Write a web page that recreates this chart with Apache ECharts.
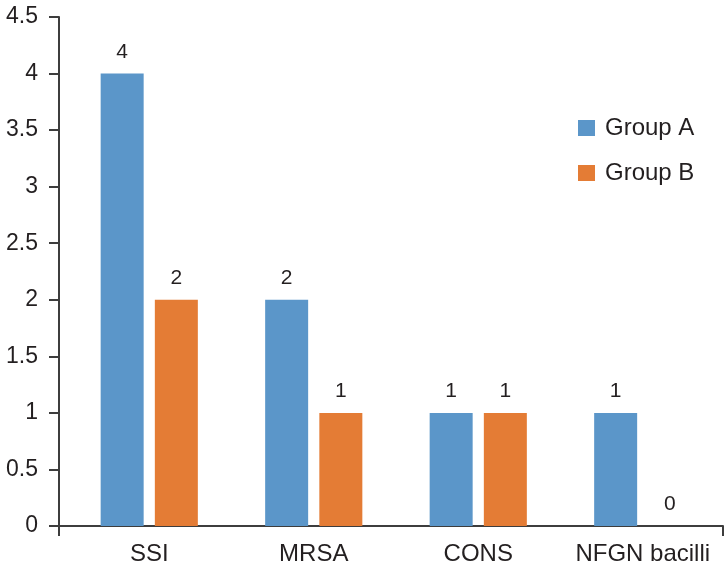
<!DOCTYPE html>
<html>
<head>
<meta charset="utf-8">
<script src="https://cdn.jsdelivr.net/npm/echarts@6/dist/echarts.min.js"></script>
<style>html,body{margin:0;padding:0;background:#fff}#c{width:727px;height:576px}</style>
</head>
<body>
<div id="c"></div>
<script>
const categories = ['SSI', 'MRSA', 'CONS', 'NFGN bacilli'];
const groupA = [4, 2, 1, 1];
const groupB = [2, 1, 1, 0];
const yTicks = { min: 0, max: 4.5, interval: 0.5 };

const FONT = '"Liberation Sans", Arial, sans-serif';
const TXT = '#231f20';
const AX = '#3d3d3d';

const chart = echarts.init(document.getElementById('c'), null, { renderer: 'canvas' });
chart.setOption({
  animation: false,
  backgroundColor: '#fff',
  grid: [
    { left: 59, right: 4, top: 17, bottom: 50 },
    { left: 67, right: 2, top: 17, bottom: 50 }
  ],
  legend: {
    orient: 'vertical',
    left: 573, top: 111,
    itemWidth: 17, itemHeight: 16, itemGap: 21,
    icon: 'rect',
    textStyle: { fontFamily: FONT, fontSize: 24, color: TXT, padding: [0, 0, 0, 5] },
    data: ['Group A', 'Group B']
  },
  xAxis: [
    {
      gridIndex: 0, type: 'category', data: categories,
      axisLine: { lineStyle: { color: AX, width: 2 } },
      axisTick: { show: true, length: 10, interval: (i) => i === 0, lineStyle: { color: AX, width: 2 } },
      axisLabel: { show: false },
      splitLine: { show: false }
    },
    {
      gridIndex: 1, type: 'category', data: categories,
      axisLine: { show: false },
      axisTick: { show: false },
      axisLabel: { fontFamily: FONT, fontSize: 24, color: TXT, margin: 16, interval: 0 },
      splitLine: { show: false }
    }
  ],
  yAxis: [
    {
      gridIndex: 0, type: 'value', min: yTicks.min, max: yTicks.max, interval: yTicks.interval,
      axisLine: { show: true, lineStyle: { color: AX, width: 2 } },
      axisTick: { show: true, length: 10, lineStyle: { color: AX, width: 2 } },
      axisLabel: { fontFamily: FONT, fontSize: 23, color: TXT, margin: 21 },
      splitLine: { show: false }
    },
    {
      gridIndex: 1, type: 'value', min: yTicks.min, max: yTicks.max, interval: yTicks.interval,
      axisLine: { show: false }, axisTick: { show: false }, axisLabel: { show: false },
      splitLine: { show: false }
    }
  ],
  series: [
    {
      name: 'Group A', type: 'bar', xAxisIndex: 1, yAxisIndex: 1, data: groupA,
      barWidth: 43, barGap: '26%',
      itemStyle: { color: '#5b96c9' },
      label: { show: true, position: 'top', distance: 11, fontFamily: FONT, fontSize: 21, color: TXT }
    },
    {
      name: 'Group B', type: 'bar', xAxisIndex: 1, yAxisIndex: 1, data: groupB,
      barWidth: 43,
      itemStyle: { color: '#e47c35' },
      label: { show: true, position: 'top', distance: 11, fontFamily: FONT, fontSize: 21, color: TXT }
    }
  ]
});
</script>
</body>
</html>
